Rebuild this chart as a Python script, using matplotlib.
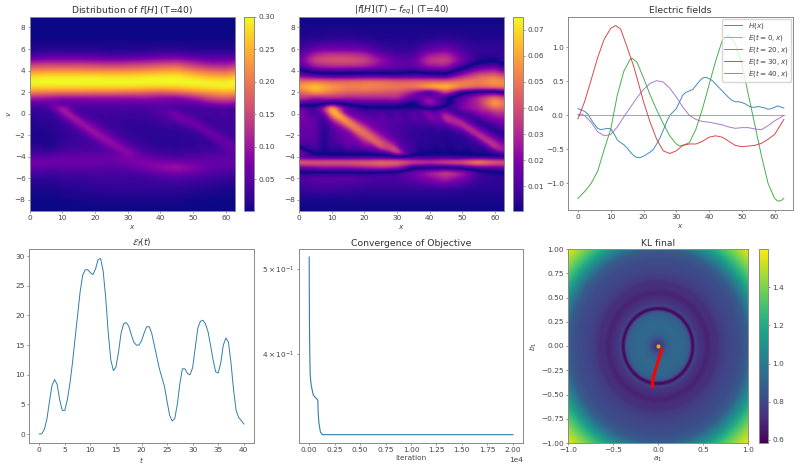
import numpy as np
import matplotlib
matplotlib.use('Agg')
import matplotlib.pyplot as plt

# phase space grid, v rows from top to bottom, x columns
x_cols = [0, 5, 7.5, 10, 15, 20, 25, 30, 35, 40, 45, 50, 55, 60, 62.8]
v_rows = [9, 8, 7, 6, 5.5, 5, 4.5, 4, 3.5, 3, 2.5, 2, 1.5, 1, 0.5, 0, -0.5, -1, -1.5, -2,
          -2.5, -3, -3.5, -4, -4.5, -5, -5.5, -6, -7, -8, -9]
# direction the filaments run in, dv/dx for each row
row_slope = [0, 0, 0, 0, 0, 0, 0, 0, 0, 0, 0, 0, 0, 0, -.05, -.22, -.22, -.22, -.22, -.22,
             -.22, -.22, -.15, 0, 0, 0, 0, 0, 0, 0, 0]

# f[H] at T=40, in units of 1e-3
f_grid = [
    [1, 1, 1, 1, 1, 1, 1, 1, 1, 1, 1, 1, 1, 1, 1],
    [1, 1, 1, 1, 1, 1, 1, 1, 1, 1, 1, 1, 1, 1, 1],
    [3, 3, 3, 3, 3, 3, 3, 3, 3, 3, 3, 3, 3, 3, 3],
    [15, 15, 15, 14, 14, 14, 12, 14, 14, 16, 16, 12, 12, 12, 14],
    [30, 40, 40, 40, 40, 38, 30, 30, 34, 45, 45, 35, 30, 32, 32],
    [80, 90, 90, 90, 90, 85, 80, 85, 90, 100, 105, 85, 70, 70, 80],
    [155, 160, 160, 160, 160, 155, 150, 155, 160, 175, 180, 145, 120, 115, 135],
    [220, 225, 225, 225, 225, 220, 220, 220, 225, 235, 240, 210, 190, 180, 200],
    [280, 285, 285, 285, 285, 285, 280, 280, 285, 290, 290, 270, 250, 240, 260],
    [305, 305, 305, 305, 305, 305, 305, 305, 305, 305, 305, 303, 295, 295, 300],
    [275, 275, 275, 275, 275, 275, 275, 275, 270, 265, 270, 280, 290, 295, 290],
    [205, 200, 195, 195, 195, 190, 190, 185, 180, 170, 180, 205, 225, 240, 235],
    [110, 100, 95, 90, 90, 90, 90, 90, 95, 85, 80, 110, 155, 175, 160],
    [50, 55, 60, 40, 50, 55, 55, 55, 55, 60, 55, 50, 85, 100, 85],
    [25, 28, 75, 115, 35, 35, 35, 35, 35, 40, 30, 35, 30, 35, 30],
    [20, 20, 30, 95, 35, 30, 28, 28, 30, 50, 75, 30, 35, 35, 30],
    [15, 18, 22, 40, 100, 35, 25, 22, 24, 35, 70, 55, 28, 32, 30],
    [12, 15, 18, 25, 95, 55, 28, 20, 20, 26, 30, 70, 30, 30, 30],
    [10, 12, 15, 22, 45, 90, 32, 20, 18, 20, 22, 30, 60, 30, 28],
    [8, 10, 12, 20, 30, 100, 52, 24, 18, 16, 16, 20, 65, 38, 26],
    [8, 8, 12, 20, 28, 50, 90, 32, 20, 16, 14, 18, 28, 60, 36],
    [12, 10, 14, 24, 30, 36, 85, 55, 26, 18, 16, 18, 24, 55, 60],
    [25, 25, 30, 38, 42, 42, 50, 85, 38, 26, 22, 26, 34, 45, 60],
    [52, 52, 55, 58, 58, 58, 60, 80, 60, 45, 40, 45, 50, 50, 50],
    [70, 68, 62, 65, 65, 62, 60, 70, 80, 75, 72, 62, 58, 58, 55],
    [55, 50, 48, 52, 52, 50, 48, 52, 70, 90, 100, 80, 55, 50, 48],
    [40, 35, 32, 36, 36, 38, 38, 38, 45, 60, 72, 60, 45, 38, 35],
    [20, 20, 22, 26, 26, 28, 28, 28, 30, 36, 40, 35, 30, 24, 20],
    [8, 8, 8, 12, 14, 18, 20, 20, 20, 20, 18, 15, 12, 8, 8],
    [2, 2, 3, 4, 5, 6, 7, 8, 8, 7, 6, 4, 3, 2, 2],
    [1, 1, 1, 1, 1, 1, 1, 1, 1, 1, 1, 1, 1, 1, 1],
]

# f[H](T) - f_eq, signed so the zero lines show up after taking abs, units of 1e-3
diff_grid = [
    [-1, -1, -1, -1, -1, -1, -1, -1, -1, -1, -1, -1, -1, -1, -1],
    [-2, -2, -2, -2, -2, -2, -2, -2, -2, -2, -2, -2, -2, -2, -2],
    [-3, -4, -4, -5, -5, -4, -3, -3, -3, -4, -5, -4, -3, -3, -3],
    [-8, -16, -18, -18, -18, -16, -8, -6, -6, -14, -18, -10, -6, -6, -6],
    [-12, -30, -33, -35, -34, -30, -16, -9, -10, -26, -30, -14, -5, -5, -7],
    [-16, -38, -40, -42, -42, -38, -24, -14, -14, -34, -38, -18, -4, -1, -7],
    [-10, -28, -30, -32, -32, -30, -20, -14, -14, -26, -28, -8, 6, 12, 3],
    [4, -8, -9, -10, -8, -8, -8, -8, -4, -8, -10, 8, 25, 30, 20],
    [22, 15, 14, 12, 12, 14, 14, 12, 14, 12, 10, 30, 45, 50, 42],
    [50, 52, 50, 48, 48, 50, 50, 46, 46, 48, 48, 52, 52, 58, 55],
    [58, 68, 62, 58, 52, 54, 52, 50, 50, 62, 68, 52, 45, 50, 50],
    [45, 58, 54, 50, 44, 44, 42, 40, 25, 1, 35, 2, -8, -12, 0],
    [35, 25, 28, 30, 28, 28, 28, 30, 12, 22, 4, -14, -30, -50, -40],
    [12, 6, 6, 0, 6, 10, 10, 10, -2, 28, 6, -18, -30, -62, -50],
    [-18, -8, -30, -72, -14, -4, -4, -4, -3, 2, -8, -20, -28, -45, -42],
    [-20, -12, -16, -60, -16, -14, -15, -14, -16, -25, -30, -4, -20, -28, -28],
    [-18, -14, -6, -30, -52, -16, -14, -12, -12, -18, -36, -22, -3, -18, -22],
    [-16, -14, -4, -16, -55, -26, -14, -10, -8, -8, -10, -36, -8, -10, -16],
    [-15, -14, -3, -10, -24, -46, -16, -10, -6, -5, -5, -14, -22, -2, -8],
    [-15, -14, -2, -10, -16, -50, -24, -10, -6, -4, -3, -5, -36, -12, -2],
    [-14, -13, -2, -10, -18, -30, -40, -14, -6, -4, -3, -4, -12, -26, -14],
    [-3, -10, -1, -10, -16, -22, -48, -24, -8, -5, -4, -4, -6, -38, -24],
    [18, -5, -3, -6, -6, -6, -12, -46, -8, -3, -3, -4, -6, -12, -24],
    [10, 6, 6, 6, 6, 6, 6, 4, 6, 6, 6, 4, 4, 4, 4],
    [48, 46, 46, 46, 46, 48, 52, 50, 40, 36, 42, 46, 60, 48, 46],
    [16, 20, 22, 22, 22, 26, 30, 26, 2, -1, -2, 4, 12, 14, 16],
    [-4, -4, -4, -4, -4, -4, -6, -8, -18, -28, -38, -28, -8, -3, -2],
    [-10, -14, -14, -14, -14, -12, -10, -10, -14, -20, -28, -18, -8, -6, -6],
    [-6, -8, -8, -8, -7, -6, -6, -6, -6, -6, -6, -5, -4, -4, -4],
    [-2, -2, -2, -2, -2, -2, -2, -2, -2, -2, -2, -2, -2, -2, -2],
    [-1, -1, -1, -1, -1, -1, -1, -1, -1, -1, -1, -1, -1, -1, -1],
]

# electric fields
x_h = [0, 1, 2, 3, 4, 5, 6, 7, 8, 9, 10, 11, 12, 13, 14, 15, 16, 17, 18, 19, 20, 21, 22, 23, 24, 25,
       26, 27, 28, 29, 30, 31, 32, 33, 34, 35, 36, 37, 38, 39, 40, 41, 42, 43, 44, 45, 46, 47, 48,
       49, 50, 51, 52, 53, 54, 55, 56, 57, 58, 59, 60, 61, 62, 62.8]
h_x = [.10, .08, .06, .02, -.06, -.13, -.19, -.21, -.20, -.19, -.20, -.27, -.36, -.40, -.43, -.48,
       -.54, -.59, -.62, -.62, -.60, -.57, -.54, -.50, -.42, -.33, -.22, -.10, 0, .05, .10, .20,
       .30, .34, .36, .38, .44, .50, .55, .56, .54, .51, .46, .41, .36, .31, .26, .22, .20, .20,
       .19, .17, .14, .12, .12, .13, .12, .11, .09, .10, .12, .14, .12, .11]
x_e0 = [0, 62.8]
e_0 = [0, 0]
x_e20 = [0, 2, 4, 6, 8, 10, 12, 14, 16, 16.5, 18, 20, 22, 24, 26, 28, 30, 31, 32, 34, 36, 38, 40, 42,
         44, 46, 48, 50, 52, 54, 56, 58, 60, 61, 62, 62.8]
e_20 = [-1.22, -1.12, -1.0, -.82, -.5, -.2, .3, .65, .83, .84, .78, .55, .3, .08, -.12, -.3, -.42,
        -.45, -.44, -.4, -.2, .1, .45, .8, 1.1, 1.18, 1.05, .75, .3, -.15, -.6, -1.0, -1.22, -1.26,
        -1.25, -1.22]
x_e30 = [0, 2, 4, 6, 8, 10, 11.5, 13, 15, 17, 18, 20, 22, 24, 26, 28, 30, 32, 34, 36, 38, 40, 42, 44,
         46, 48, 50, 52, 54, 56, 58, 60, 62.8]
e_30 = [-.05, .2, .52, .85, 1.12, 1.28, 1.32, 1.27, 1.0, .72, .55, .2, -.1, -.35, -.52, -.56, -.52,
        -.44, -.42, -.42, -.38, -.32, -.30, -.32, -.38, -.44, -.46, -.45, -.44, -.41, -.35, -.28, -.06]
x_e40 = [0, 1, 2, 4, 6, 8, 10, 12, 14, 16, 18, 20, 22, 24, 26, 28, 30, 32, 34, 36, 38, 40, 42, 44,
         46, 48, 50, 52, 54, 56, 58, 60, 62.8]
e_40 = [.01, .02, 0, -.1, -.24, -.30, -.28, -.17, -.02, .12, .26, .38, .47, .51, .49, .40, .27, .12,
        0, -.06, -.09, -.10, -.12, -.14, -.17, -.19, -.18, -.18, -.20, -.21, -.15, -.08, 0]

# field energy over time
t_vals = [0, .5, 1, 1.5, 2, 2.5, 3, 3.5, 4, 4.5, 5, 5.5, 6, 6.5, 7, 7.5, 8, 8.5, 9, 9.5, 10, 10.5, 11,
          11.5, 12, 12.5, 13, 13.5, 14, 14.5, 15, 15.5, 16, 16.5, 17, 17.5, 18, 18.5, 19, 19.5, 20,
          20.5, 21, 21.5, 22, 22.5, 23, 23.5, 24, 24.5, 25, 25.5, 26, 26.5, 27, 27.5, 28, 28.5, 29,
          29.5, 30, 30.5, 31, 31.5, 32, 32.5, 33, 33.5, 34, 34.5, 35, 35.5, 36, 36.5, 37, 37.5, 38,
          38.5, 39, 39.5, 40]
energy = [0, .05, .8, 2.5, 5.5, 8.2, 9.2, 8.4, 5.8, 4, 4, 5.8, 8.5, 12, 16, 20, 24, 26.8, 27.7, 27.7,
          27.2, 26.9, 27.8, 29.4, 29.6, 27.5, 23, 17, 12.5, 10.7, 11.3, 13.8, 17, 18.6, 18.8, 18.2,
          16.8, 15.5, 15, 15, 15.7, 17, 18.1, 18.1, 17, 15, 13, 11, 9.5, 8, 5.5, 3.2, 2.2, 2.6, 5,
          8.5, 11, 11, 10.2, 10, 11.2, 14.5, 17.8, 19, 19.2, 18.6, 17.3, 15, 12.5, 10.5, 10.3, 12,
          15, 16.2, 15.5, 12, 7.5, 4, 2.8, 2.3, 1.7]

# objective history
iters = [0, 10, 30, 60, 100, 200, 400, 700, 850, 880, 950, 1100, 1300, 20000]
objective = [.516, .48, .43, .40, .378, .368, .359, .3557, .354, .3435, .334, .3257, .3234, .3234]

# KL radial profile and optimiser path
kl_r = [0, .03, .05, .08, .1, .14, .2, .3, .35, .365, .375, .385, .395, .405, .42, .44, .5, .55, .6, .65,
        .7, .8, .9, 1.0, 1.1, 1.2, 1.3, 1.42]
kl_val = [.72, .74, .78, .84, .88, .91, .93, .91, .87, .78, .64, .60, .62, .70, .80, .75, .72, .68, .72,
          .72, .76, .80, .82, .88, 1.06, 1.26, 1.42, 1.58]
path_a = [.04, .03, .01, -.01, -.03, -.05, -.06, -.06]
path_b = [-.04, -.07, -.13, -.19, -.25, -.31, -.37, -.42]

W, H = 800, 470
plt.rcParams['font.size'] = 5.3
plt.rcParams['text.color'] = '#444444'
plt.rcParams['axes.labelcolor'] = '#444444'
plt.rcParams['axes.titlecolor'] = '#333333'
plt.rcParams['axes.titlesize'] = 6.7
plt.rcParams['axes.labelsize'] = 5.3
plt.rcParams['axes.edgecolor'] = '#8a8a8a'
plt.rcParams['axes.linewidth'] = 0.7
plt.rcParams['axes.titlepad'] = 2.5
plt.rcParams['axes.labelpad'] = 1.5
plt.rcParams['xtick.color'] = '#444444'
plt.rcParams['ytick.color'] = '#444444'
plt.rcParams['xtick.major.size'] = 1.5
plt.rcParams['ytick.major.size'] = 1.5
plt.rcParams['xtick.major.width'] = 0.4
plt.rcParams['ytick.major.width'] = 0.4
plt.rcParams['xtick.major.pad'] = 1.5
plt.rcParams['ytick.major.pad'] = 1.5


def px_axes(fig, left, top, right, bottom):
    return fig.add_axes([left / W, 1 - bottom / H, (right - left) / W, (bottom - top) / H])


def box_smooth(a, n, axis):
    k = np.ones(n) / n
    pad = n // 2
    pw = [(0, 0), (0, 0)]
    pw[axis] = (pad, pad)
    padded = np.pad(a, pw, mode='edge')
    return np.apply_along_axis(lambda s: np.convolve(s, k, mode='valid'), axis, padded)


def upsample(grid):
    # fine mesh; between two columns, interpolate along the local filament direction
    xf = np.linspace(0, 62.8, 252)
    vf = np.linspace(9, -9, 288)
    g = np.asarray(grid, float)[::-1]
    v_asc = np.array(v_rows[::-1], float)
    slope = np.interp(vf, v_asc, row_slope[::-1])
    xc = np.array(x_cols, float)
    out = np.zeros((len(vf), len(xf)))
    for i, x in enumerate(xf):
        j = min(np.searchsorted(xc, x, side='right') - 1, len(xc) - 2)
        t = (x - xc[j]) / (xc[j + 1] - xc[j])
        left = np.interp(vf - slope * (x - xc[j]), v_asc, g[:, j])
        right = np.interp(vf - slope * (x - xc[j + 1]), v_asc, g[:, j + 1])
        out[:, i] = (1 - t) * left + t * right
    for _ in range(2):
        out = box_smooth(out, 7, 1)
        out = box_smooth(out, 5, 0)
    return out / 1000.0


fig = plt.figure(figsize=(W / 100, H / 100), dpi=100)

ax = px_axes(fig, 29.7, 16.7, 235, 210.7)
im = ax.imshow(upsample(f_grid), extent=[0, 62.8, -9, 9], aspect='auto', cmap='plasma',
               vmin=0.0015, vmax=0.30, interpolation='bilinear')
ax.set_title('Distribution of $f[H]$ (T=40)')
ax.set_xlabel('$x$')
ax.set_ylabel('$v$')
ax.set_yticks([-8, -6, -4, -2, 0, 2, 4, 6, 8])
cax = px_axes(fig, 244, 16.7, 254, 210.7)
cb = fig.colorbar(im, cax=cax, ticks=[.05, .10, .15, .20, .25, .30])
cb.ax.set_yticklabels(['0.05', '0.10', '0.15', '0.20', '0.25', '0.30'])

ax = px_axes(fig, 299, 16.7, 504, 210.7)
im = ax.imshow(np.abs(upsample(diff_grid)), extent=[0, 62.8, -9, 9], aspect='auto', cmap='plasma',
               vmin=0.0007, vmax=0.075, interpolation='bilinear')
ax.set_title('$|f[H](T) - f_{eq}|$ (T=40)')
ax.set_xlabel('$x$')
ax.set_yticks([-8, -6, -4, -2, 0, 2, 4, 6, 8])
cax = px_axes(fig, 513, 16.7, 523, 210.7)
fig.colorbar(im, cax=cax, ticks=[.01, .02, .03, .04, .05, .06, .07])

ax = px_axes(fig, 568, 16.7, 793, 210)
ax.plot(x_h, h_x, lw=0.7, alpha=0.85, label='$H(x)$')
ax.plot(x_e0, e_0, lw=0.7, alpha=0.85, label='$E(t=0,x)$')
ax.plot(x_e20, e_20, lw=0.7, alpha=0.85, label='$E(t=20,x)$')
ax.plot(x_e30, e_30, lw=0.7, alpha=0.85, label='$E(t=30,x)$')
ax.plot(x_e40, e_40, lw=0.7, alpha=0.85, label='$E(t=40,x)$')
ax.set_xlim(-3.05, 65.6)
ax.set_ylim(-1.39, 1.45)
ax.set_xticks([0, 10, 20, 30, 40, 50, 60])
ax.set_yticks([-1, -.5, 0, .5, 1])
ax.set_yticklabels(['\u22121.0', '\u22120.5', '0.0', '0.5', '1.0'])
ax.set_title('Electric fields')
ax.set_xlabel('$x$')
ax.legend(loc='upper right', fontsize=5.2, borderaxespad=0.3, labelspacing=0.15, handlelength=2.5,
          borderpad=0.3)

ax = px_axes(fig, 29, 249, 254, 443)
ax.plot(t_vals, energy, lw=0.7, color='#2f7fa8')
ax.set_xlim(-2, 42)
ax.set_ylim(-1.5, 31.2)
ax.set_xticks(range(0, 41, 5))
ax.set_title(r'$\mathcal{E}_f(t)$')
ax.set_xlabel('$t$')

ax = px_axes(fig, 299, 249, 523, 443)
ax.semilogy(iters, objective, lw=0.8, color='#2f7fa8')
ax.set_xlim(-1000, 21000)
ax.set_ylim(.3164, .527)
ax.set_yticks([.4, .5])
ax.set_yticklabels([r'$4\times10^{-1}$', r'$5\times10^{-1}$'])
ax.set_yticks([], minor=True)
ax.set_xticks(np.arange(0, 20001, 2500))
ax.ticklabel_format(axis='x', style='sci', scilimits=(0, 0))
ax.xaxis.get_offset_text().set_fontsize(5.3)
ax.set_title('Convergence of Objective')
ax.set_xlabel('Iteration')

ax = px_axes(fig, 568, 249, 748, 443)
a = np.linspace(-1, 1, 500)
aa, bb = np.meshgrid(a, a)
im = ax.imshow(np.interp(np.hypot(aa, bb), kl_r, kl_val), extent=[-1, 1, -1, 1], origin='lower',
               aspect='auto', cmap='viridis', vmin=.584, vmax=1.6)
ax.plot(path_a, path_b, color='red', lw=2.2)
ax.plot([0], [0], 'o', color='#e0b000', ms=2)
ax.set_title('KL final')
ax.set_xlabel('$a_1$')
ax.set_ylabel('$b_1$')
ax.set_xticks([-1, -.5, 0, .5, 1])
ax.set_yticks(np.arange(-1, 1.01, .25))
cax = px_axes(fig, 759, 249, 768, 443)
fig.colorbar(im, cax=cax, ticks=[.6, .8, 1.0, 1.2, 1.4])

fig.savefig('out.png', dpi=100)
